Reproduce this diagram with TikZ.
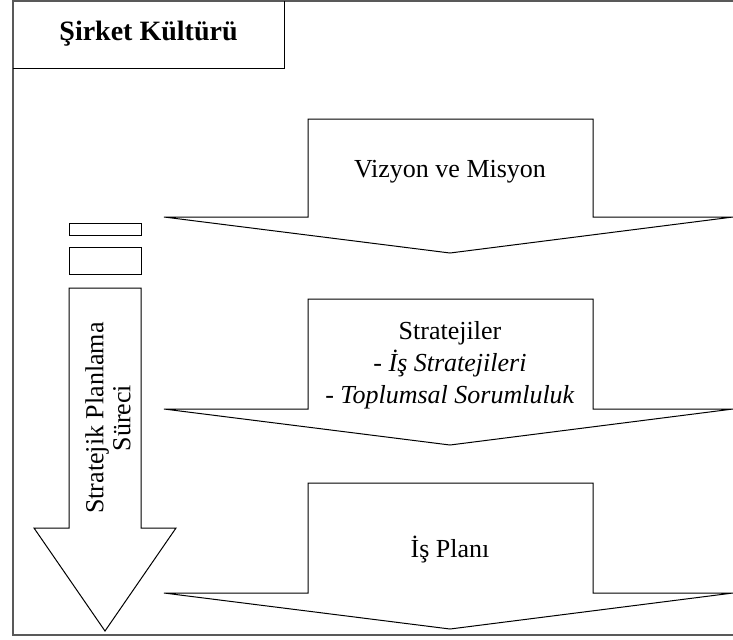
\documentclass[tikz,border=0pt]{standalone}
\usepackage{fontspec}
\setmainfont{Liberation Serif}
\usepackage{tikz}
\usetikzlibrary{positioning}

\begin{document}
\begin{tikzpicture}[
        x=0.5pt, y=-0.5pt,
        every node/.style={font=\fontsize{13}{16}\selectfont, align=center, inner sep=0pt},
        frame/.style={draw=black!65, line width=0.7pt},
        titlebox/.style={draw=black, line width=0.5pt},
        blockarrow/.style={draw=black, fill=white, line width=0.5pt, line join=miter},
        smallbar/.style={draw=black, fill=white, line width=0.5pt}
    ]
        \useasboundingbox (0,0) rectangle (733,639);

        % Frame
        \draw[frame] (733,1) -- (13,1) -- (13,635) -- (733,635);
        \draw[titlebox] (13,68) -- (284,68) -- (284,1);
        \node[font=\fontsize{14}{16}\selectfont\bfseries] (kultur) at (148.5,34) {Şirket Kültürü};

        % Main arrows
        \foreach \top/\sh in {119/217, 299/409, 483/593}
            \draw[blockarrow] (164,\sh) -- (308,\sh) -- (308,\top) -- (593,\top)
                -- (593,\sh) -- (733,\sh) -- (450,\sh+36) -- cycle;

        \node (vizyon) at (450,172) {Vizyon ve Misyon};
        \node (strateji) at (450,365) {Stratejiler\\- \textit{İş Stratejileri}\\- \textit{Toplumsal Sorumluluk}};
        \node (plan) at (450,550) {İş Planı};

        % Process arrow
        \draw[smallbar] (69,223) rectangle (141,235);
        \draw[smallbar] (69,247) rectangle (141,274);
        \draw[blockarrow] (69,288) -- (69,528) -- (34,528) -- (105,631)
            -- (176,528) -- (141,528) -- (141,288) -- cycle;
        \node[rotate=90, font=\fontsize{13}{13.5}\selectfont] (surec) at (108,418) {Stratejik Planlama\\Süreci};

    \end{tikzpicture}
\end{document}
